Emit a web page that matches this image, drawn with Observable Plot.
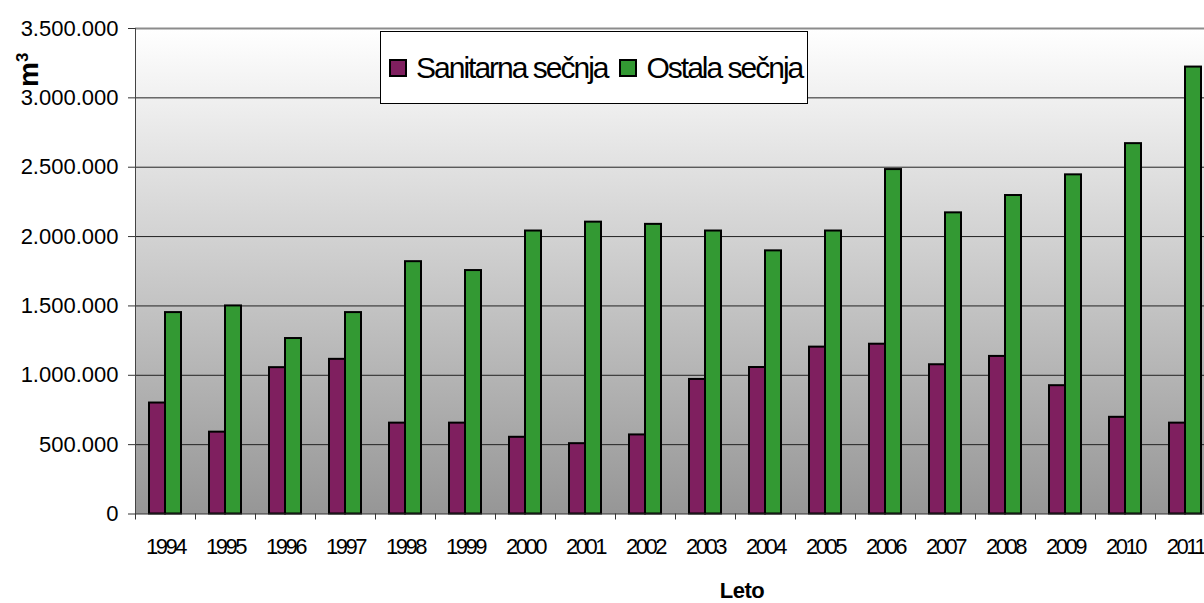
<!DOCTYPE html>
<html><head><meta charset="utf-8">
<script src="https://cdn.jsdelivr.net/npm/d3@7"></script>
<script src="https://cdn.jsdelivr.net/npm/@observablehq/plot@0.6"></script>
<style>
html,body{margin:0;padding:0;background:#fff;overflow:hidden;}
#wrap{position:relative;width:1204px;height:603px;overflow:hidden;font-family:Arial,"Liberation Sans",sans-serif;color:#000;}
#chart svg{position:absolute;left:0;top:0;}
.legend{position:absolute;left:380px;top:31px;width:428px;height:73px;box-sizing:border-box;border:1px solid #000;background:#fff;display:flex;align-items:center;padding-left:8px;}
.legend .sw{width:18px;height:18px;box-sizing:border-box;border:2px solid #000;margin-right:9px;flex:none;}
.legend .lab{font-size:30px;line-height:30px;letter-spacing:-2px;margin-right:12px;white-space:nowrap;}
.ylab{position:absolute;left:9px;top:87px;transform:rotate(-90deg);transform-origin:0 0;font-size:28px;font-weight:bold;line-height:28px;white-space:nowrap;}
.ylab sup{font-size:60%;}
.xtitle{position:absolute;left:642px;width:200px;top:581px;text-align:center;font-size:22px;font-weight:bold;line-height:20px;letter-spacing:-0.5px;}
</style></head>
<body><div id="wrap"><div id="chart"></div>
<div class="legend" id="legend"></div>
<div class="ylab">m<sup>3</sup></div>
<div class="xtitle" id="xtitle"></div></div>
<script>
const years = ["1994","1995","1996","1997","1998","1999","2000","2001","2002","2003","2004","2005","2006","2007","2008","2009","2010","2011"];
const series = ["Sanitarna sečnja", "Ostala sečnja"];
const sanitarna = [800000, 590000, 1055000, 1115000, 655000, 655000, 553000, 507000, 570000, 970000, 1056000, 1203000, 1224000, 1076000, 1136000, 925000, 697000, 655000];
const ostala = [1452000, 1500000, 1265000, 1452000, 1819000, 1755000, 2040000, 2104000, 2088000, 2040000, 1897000, 2040000, 2483000, 2171000, 2296000, 2445000, 2670000, 3222000];
const colors = ["#7f1f5f", "#339933"];
const yTicks = [0, 500000, 1000000, 1500000, 2000000, 2500000, 3000000, 3500000];
const yMax = 3500000;
const xTitle = "Leto";

const data = years.flatMap((yr, i) => [
  {year: yr, series: series[0], value: sanitarna[i]},
  {year: yr, series: series[1], value: ostala[i]}
]);
const fmt = d3.formatLocale({decimal: ",", thousands: ".", grouping: [3], currency: ["", ""]}).format(",d");

const svg = Plot.plot({
  width: 1216, height: 603,
  marginLeft: 134, marginRight: 0, marginTop: 28, marginBottom: 89.5,
  style: {fontFamily: "Arial, 'Liberation Sans', sans-serif", fontSize: "22px", maxWidth: "none", overflow: "visible", background: "transparent", color: "#000"},
  fx: {domain: years, padding: 0, axis: null, label: null},
  x: {domain: series, paddingInner: 0, paddingOuter: 0.82, axis: null},
  y: {domain: [0, yMax], axis: null},
  color: {domain: series, range: colors},
  marks: [
    Plot.frame({fill: "url(#bgGrad)", stroke: "none", facet: "super"}),
    Plot.gridY(yTicks.slice(1, -1), {stroke: "#222", strokeOpacity: 1}),
    Plot.ruleY([yMax], {stroke: "#8c8c8c", strokeWidth: 2}),
    Plot.barY(data, {fx: "year", x: "series", y: "value", fill: "series", stroke: "#000", strokeWidth: 2}),
    Plot.ruleY([0], {stroke: "#333"}),
    Plot.frame({anchor: "left", stroke: "#444", facet: "super"}),
    Plot.axisY(yTicks, {tickSize: 7, tickPadding: 10, tickFormat: fmt, fontSize: 22, stroke: "#333", label: null}),
    Plot.axisFx({anchor: "bottom", tickSize: 6, tickFormat: () => "", dx: -30, label: null, stroke: "#333"}),
    Plot.axisFx({anchor: "bottom", tickSize: 0, tickPadding: 24, fontSize: 22, label: null})
  ]
});

const sel = d3.select(svg);
sel.insert("defs", ":first-child").html(
  '<linearGradient id="bgGrad" x1="0" y1="0" x2="0" y2="1">' +
  '<stop offset="0" stop-color="#ffffff"/><stop offset="1" stop-color="#969696"/></linearGradient>'
);
sel.selectAll("g[aria-label='fx-axis tick label'] text").style("letter-spacing", "-2.5px");
document.getElementById("chart").appendChild(svg);

const legend = document.getElementById("legend");
series.forEach((s, i) => {
  const sw = document.createElement("span");
  sw.className = "sw"; sw.style.background = colors[i];
  const lab = document.createElement("span");
  lab.className = "lab"; lab.textContent = s;
  legend.appendChild(sw); legend.appendChild(lab);
});
document.getElementById("xtitle").textContent = xTitle;
</script>
</body></html>
